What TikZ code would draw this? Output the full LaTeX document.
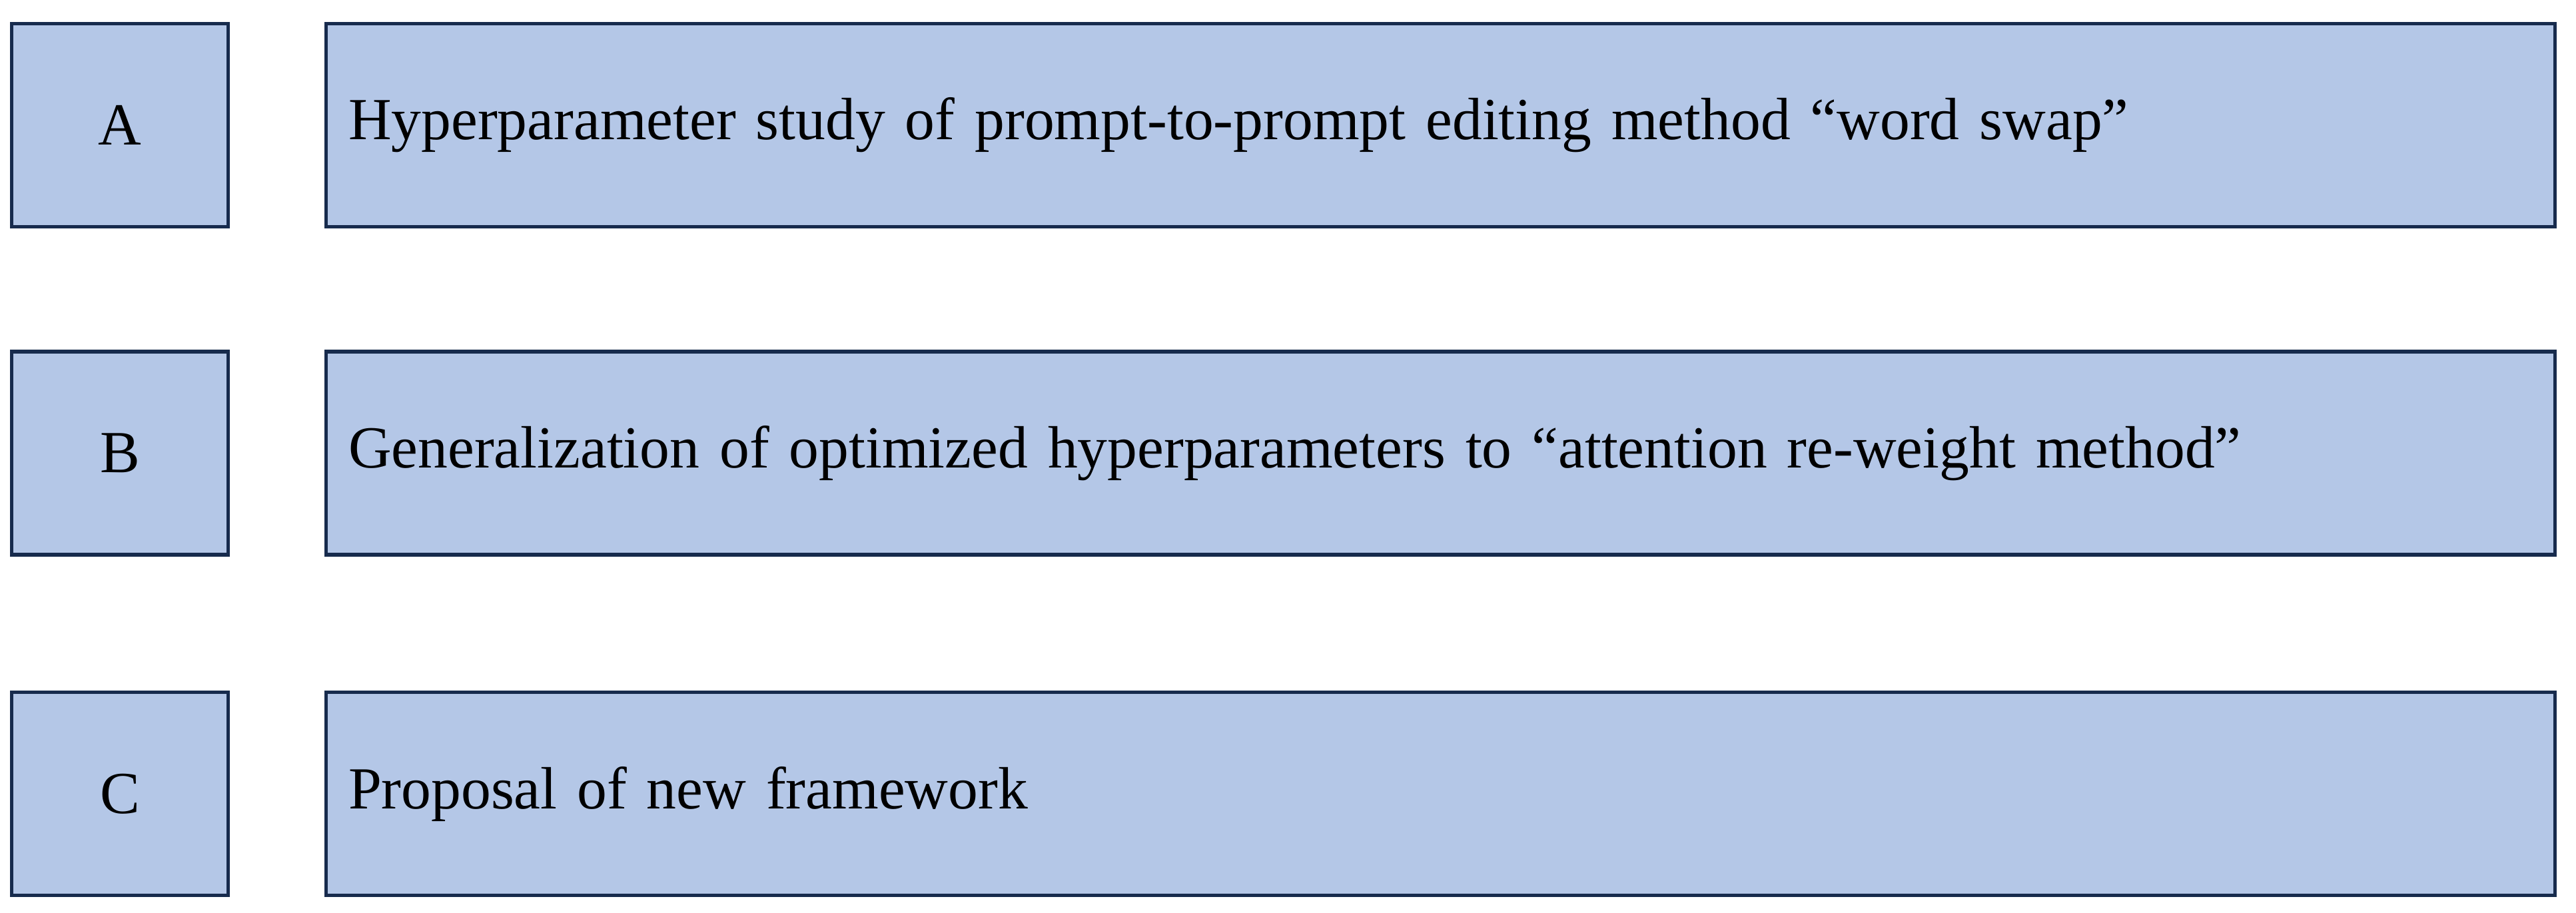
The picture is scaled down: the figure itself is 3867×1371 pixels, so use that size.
\documentclass[tikz,border=0pt]{standalone}
\usepackage{fontspec}
\setmainfont{Liberation Serif}
\definecolor{boxfill}{HTML}{B4C7E7}
\definecolor{boxline}{HTML}{172B4D}
\begin{document}
\begin{tikzpicture}[x=0.25pt,y=-0.25pt,
  base/.style={draw=boxline, fill=boxfill, line width=1.3pt, rectangle,
    minimum height=76.25pt, font=\fontsize{22.4pt}{27pt}\selectfont, text=black},
  letterbox/.style={base, minimum width=81.25pt, inner sep=0pt},
  textbox/.style={base, minimum width=836.5pt, text width=819.75pt, inner xsep=8.375pt, inner ysep=0pt, align=left}]
\useasboundingbox (0,0) rectangle (3867,1371);
\node[letterbox] (la) at (180,188) {A};
\node[textbox] (ta) at (2162.5,188) {Hyperparameter study of prompt-to-prompt editing method “word swap”};
\node[letterbox] (lb) at (180,680.5) {B};
\node[textbox] (tb) at (2162.5,680.5) {Generalization of optimized hyperparameters to “attention re-weight method”};
\node[letterbox] (lc) at (180,1192) {C};
\node[textbox] (tc) at (2162.5,1192) {Proposal of new framework};
\end{tikzpicture}
\end{document}
